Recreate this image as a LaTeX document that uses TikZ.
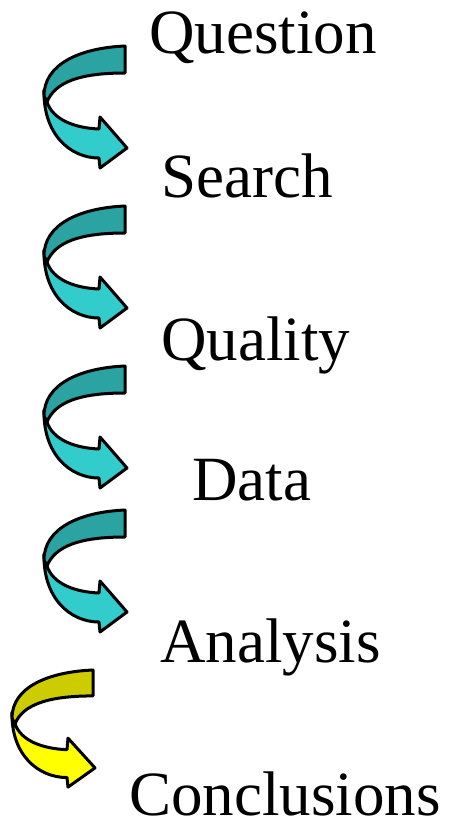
\documentclass[tikz,border=0pt]{standalone}
\usepackage{fontspec}
\setmainfont{Liberation Serif}
\definecolor{tealdark}{HTML}{2CA3A3}
\definecolor{teallight}{HTML}{33CCCC}
\definecolor{yeldark}{HTML}{CCCC00}
\definecolor{yellight}{HTML}{FFFF00}
\tikzset{
  lbl/.style={anchor=base west, inner sep=0pt, font=\fontsize{63}{70}\selectfont},
  band/.style={draw=black, line width=3pt, line join=round},
  pics/twistarrow/.style 2 args={code={
    \draw[band, fill=#2] (-81,44) .. controls (-82,88) and (-55,112) .. (-26,112)
        -- (-25,122) -- (2,102) -- (-25,71) -- (-26,83)
        .. controls (-50,82) and (-72,74) .. (-78,56) -- cycle;
    \draw[band, fill=#1] (0,0) .. controls (-45,2) and (-81,18) .. (-81,50)
        -- (-78,56) .. controls (-70,36) and (-45,27) .. (0,27) -- cycle;
  }}
}
\begin{document}
\begin{tikzpicture}[x=1pt,y=-1pt]
\useasboundingbox (0,0) rectangle (449,828);
\node[lbl] (q) at (149,53) {Question};
\node[lbl] (s) at (161,197) {Search};
\node[lbl] (ql) at (161,360) {Quality};
\node[lbl] (d) at (192,500) {Data};
\node[lbl] (an) at (160,662) {Analysis};
\node[lbl] (c) at (129,815) {Conclusions};
\pic at (125,46) {twistarrow={tealdark}{teallight}};
\pic at (125,206) {twistarrow={tealdark}{teallight}};
\pic at (125,366) {twistarrow={tealdark}{teallight}};
\pic at (125,510) {twistarrow={tealdark}{teallight}};
\pic[yscale=0.96] at (93,670) {twistarrow={yeldark}{yellight}};
\end{tikzpicture}
\end{document}
